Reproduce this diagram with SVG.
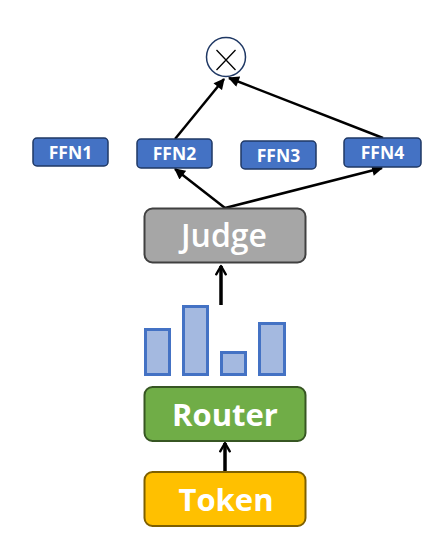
<svg xmlns="http://www.w3.org/2000/svg" width="443" height="548" viewBox="0 0 443 548">
<style>
.ffn{fill:#4472c4;stroke:#1f3864;stroke-width:1.5}
.ffnt{font-family:"Open Sans","DejaVu Sans",sans-serif;font-weight:bold;font-size:17.5px;fill:#fff;text-anchor:middle}
.big{font-family:"Open Sans","DejaVu Sans",sans-serif;font-weight:600;font-size:32px;fill:#fff;text-anchor:middle}
.bold{font-weight:bold;font-size:31px}
.bar{fill:#a4b9e0;stroke:#4472c4;stroke-width:3}
.c{stroke:#000;fill:none;stroke-width:2.5}
.ct{stroke:#000;fill:none;stroke-width:3.5}
</style>
<defs>
<marker id="ah" viewBox="0 0 10 10" refX="9" refY="5" markerWidth="4.8" markerHeight="4.4" orient="auto" markerUnits="strokeWidth">
<path d="M0,0 L10,5 L0,10 z" fill="#000"/>
</marker>
<marker id="oh" viewBox="0 0 10 10" refX="8" refY="5" markerWidth="3.4" markerHeight="3.4" orient="auto" markerUnits="strokeWidth">
<path d="M1,1 L8,5 L1,9" fill="none" stroke="#000" stroke-width="2" stroke-linecap="round" stroke-linejoin="round"/>
</marker>
</defs>
<g id="connectors">
<line class="c" x1="175" y1="139" x2="224" y2="79" marker-end="url(#ah)"/>
<line class="c" x1="383" y1="138" x2="229" y2="78" marker-end="url(#ah)"/>
<line class="c" x1="225" y1="208" x2="175" y2="169" marker-end="url(#ah)"/>
<line class="c" x1="225" y1="208" x2="382" y2="168" marker-end="url(#ah)"/>
<line class="ct" x1="221" y1="305" x2="221" y2="266" marker-end="url(#oh)"/>
<line class="ct" x1="225" y1="472" x2="225" y2="443" marker-end="url(#oh)"/>
</g>
<g id="mult">
<circle cx="226" cy="57" r="19.5" fill="#fff" stroke="#1f3864" stroke-width="1.5"/>
<path d="M216.5,50 L235.5,70 M235.5,50 L216.5,70" stroke="#000" stroke-width="1.3" fill="none"/>
</g>
<g id="ffn1"><rect class="ffn" x="33" y="138" width="75" height="28" rx="4"/><text class="ffnt" x="70.5" y="158.5">FFN1</text></g>
<g id="ffn2"><rect class="ffn" x="137" y="139" width="75" height="29" rx="4"/><text class="ffnt" x="174.5" y="160">FFN2</text></g>
<g id="ffn3"><rect class="ffn" x="241" y="141" width="75" height="28" rx="4"/><text class="ffnt" x="278.5" y="161.5">FFN3</text></g>
<g id="ffn4"><rect class="ffn" x="344" y="138" width="77" height="29" rx="4"/><text class="ffnt" x="382.5" y="159">FFN4</text></g>
<g id="judge"><rect x="144.5" y="208.5" width="161" height="54" rx="8" fill="#a6a6a6" stroke="#404040" stroke-width="2"/><text class="big" x="224" y="247">Judge</text></g>
<g id="bars">
<rect class="bar" x="145.5" y="329.5" width="24" height="45"/>
<rect class="bar" x="183.5" y="306.5" width="24" height="68"/>
<rect class="bar" x="221.5" y="352.5" width="24" height="22"/>
<rect class="bar" x="259.5" y="323.5" width="25" height="51"/>
</g>
<g id="router"><rect x="144.5" y="387" width="161" height="54" rx="8" fill="#70ad47" stroke="#375623" stroke-width="2"/><text class="big bold" x="225" y="426">Router</text></g>
<g id="token"><rect x="144.5" y="472" width="161" height="54" rx="8" fill="#ffc000" stroke="#7f6000" stroke-width="2"/><text class="big bold" x="226" y="511">Token</text></g>
</svg>
